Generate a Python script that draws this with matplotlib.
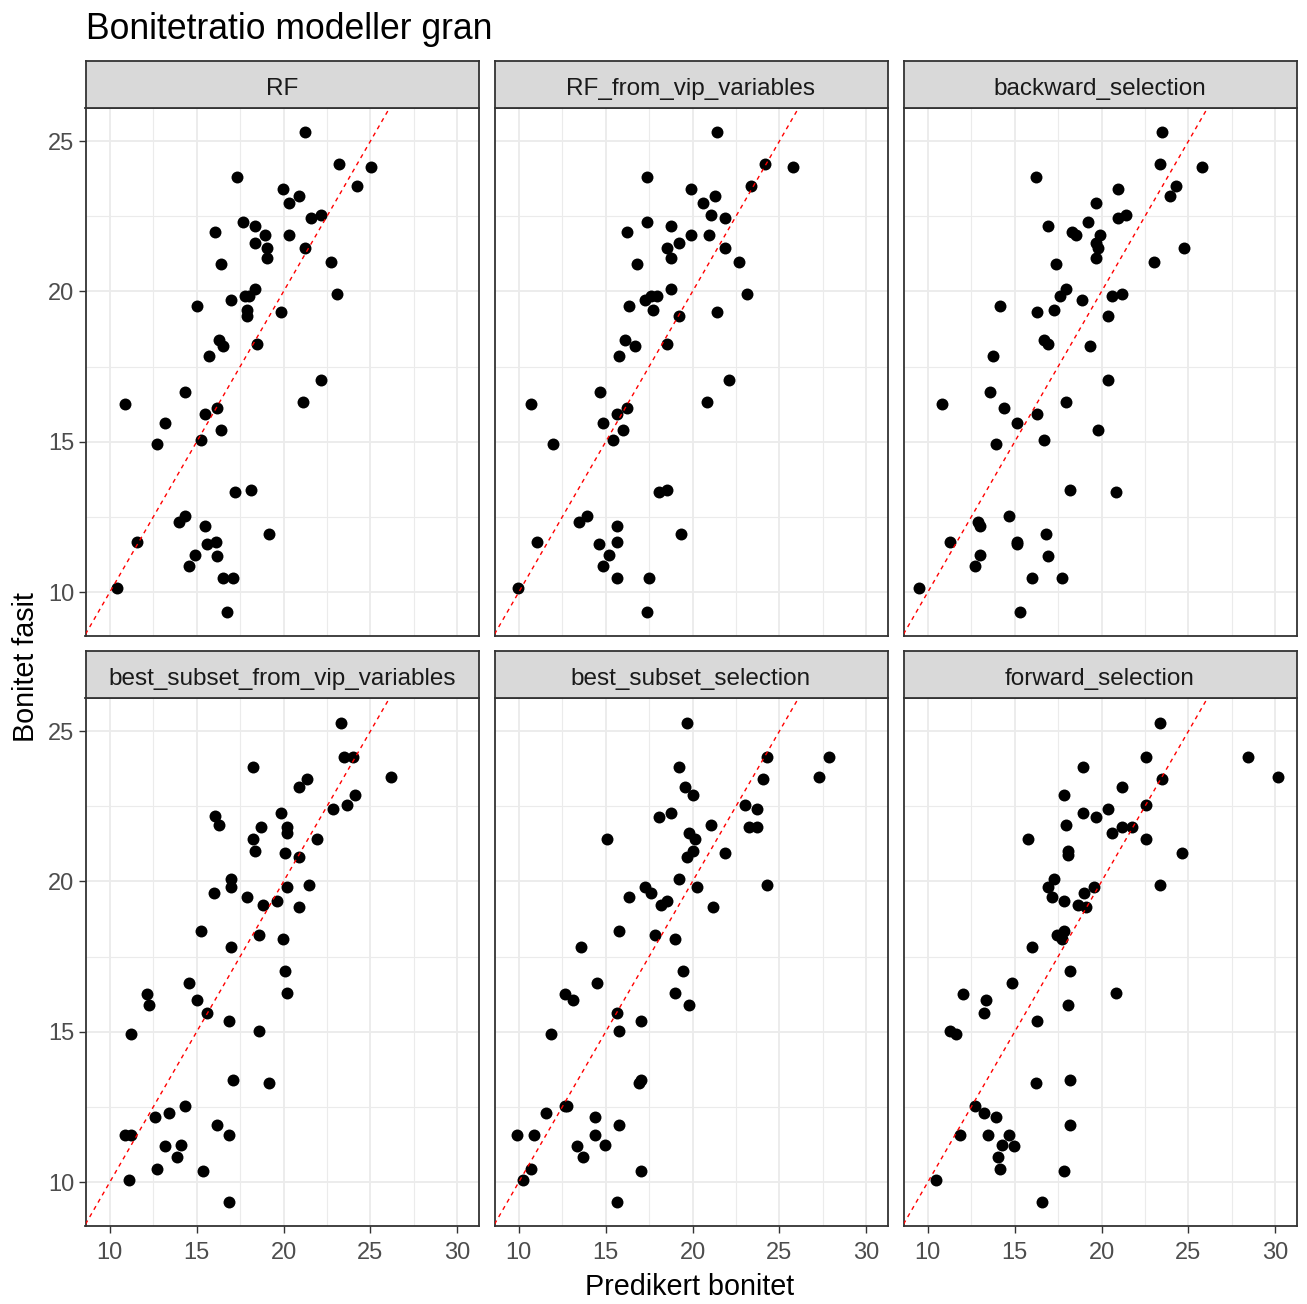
import matplotlib
matplotlib.use('Agg')
import matplotlib.pyplot as plt
from matplotlib.ticker import MultipleLocator

plt.rcParams['font.family'] = ['Liberation Sans', 'DejaVu Sans']

# modellnavn (fasetter)
modeller = ['RF', 'RF_from_vip_variables', 'backward_selection',
            'best_subset_from_vip_variables', 'best_subset_selection', 'forward_selection']

# Predikert bonitet (x) og Bonitet fasit (y) per modell
rf_x = [21.22, 23.19, 25.01, 17.32, 19.96, 20.86, 20.31, 24.23, 21.57, 22.16, 17.67, 18.37, 16.06, 18.95, 20.31,
        18.35, 19.04, 21.22, 19.04, 22.71, 16.39, 18.37, 17.78, 18.01, 23.06, 15.03, 16.98, 17.90, 17.90, 19.87,
        16.29, 16.52, 18.47, 15.72, 22.16, 14.34, 10.90, 21.11, 16.19, 15.49, 13.17, 16.41, 15.26, 12.72, 17.21,
        18.13, 14.34, 14.00, 15.49, 19.16, 11.59, 15.60, 16.10, 14.91, 16.19, 14.57, 16.52, 17.09, 10.44, 16.75]
rf_y = [25.29, 24.23, 24.15, 23.82, 23.42, 23.16, 22.95, 23.49, 22.43, 22.55, 22.30, 22.16, 21.96, 21.89, 21.89,
        21.62, 21.43, 21.43, 21.10, 20.97, 20.90, 20.09, 19.84, 19.84, 19.90, 19.50, 19.70, 19.37, 19.18, 19.30,
        18.38, 18.17, 18.24, 17.84, 17.04, 16.65, 16.25, 16.32, 16.11, 15.91, 15.64, 15.39, 15.05, 14.92, 13.33,
        13.39, 12.53, 12.33, 12.19, 11.92, 11.65, 11.59, 11.65, 11.25, 11.20, 10.86, 10.46, 10.46, 10.12, 9.34]

vip_x = [21.42, 24.18, 25.80, 17.37, 19.92, 21.29, 20.60, 23.36, 21.06, 21.86, 17.37, 18.75, 16.22, 19.92, 20.94,
         19.21, 18.52, 21.86, 18.75, 22.67, 16.79, 18.75, 17.60, 17.95, 17.26, 23.13, 16.33, 17.72, 19.21, 21.40,
         16.10, 16.68, 18.52, 15.76, 22.11, 14.70, 10.69, 20.83, 16.22, 15.64, 14.82, 15.99, 15.41, 11.96, 18.06,
         18.52, 13.93, 13.47, 15.64, 19.35, 11.02, 14.61, 15.64, 15.18, 14.84, 15.64, 17.47, 9.98, 17.37]
vip_y = [25.29, 24.23, 24.15, 23.82, 23.42, 23.16, 22.95, 23.49, 22.55, 22.43, 22.30, 22.16, 21.96, 21.89, 21.89,
         21.62, 21.43, 21.43, 21.10, 20.97, 20.90, 20.09, 19.84, 19.84, 19.70, 19.90, 19.50, 19.37, 19.17, 19.30,
         18.37, 18.17, 18.24, 17.84, 17.04, 16.65, 16.25, 16.32, 16.11, 15.91, 15.64, 15.39, 15.05, 14.92, 13.33,
         13.39, 12.53, 12.33, 12.19, 11.92, 11.65, 11.59, 11.65, 11.22, 10.86, 10.46, 10.46, 10.12, 9.34]

back_x = [23.47, 23.36, 25.80, 16.22, 20.94, 19.67, 24.28, 23.92, 20.94, 21.40, 19.21, 16.89, 18.29, 18.52, 19.90,
          19.67, 19.79, 24.74, 19.67, 23.01, 17.35, 17.95, 17.60, 18.87, 20.60, 21.17, 14.13, 17.26, 16.31, 20.36,
          16.68, 16.91, 19.33, 13.78, 20.36, 13.55, 10.79, 17.93, 14.36, 16.31, 15.16, 19.79, 16.68, 13.90, 18.18,
          20.83, 14.70, 12.88, 12.99, 16.79, 11.27, 15.16, 15.16, 12.98, 16.91, 12.74, 15.99, 17.72, 9.52, 15.28]
back_y = [25.29, 24.23, 24.15, 23.82, 23.42, 22.95, 23.49, 23.16, 22.43, 22.55, 22.30, 22.16, 21.96, 21.89, 21.89,
          21.62, 21.43, 21.43, 21.10, 20.97, 20.90, 20.09, 19.84, 19.70, 19.84, 19.90, 19.50, 19.37, 19.30, 19.17,
          18.37, 18.24, 18.17, 17.84, 17.04, 16.65, 16.25, 16.32, 16.11, 15.91, 15.64, 15.39, 15.05, 14.92, 13.39,
          13.33, 12.53, 12.33, 12.19, 11.92, 11.65, 11.65, 11.59, 11.25, 11.20, 10.86, 10.46, 10.46, 10.12, 9.34]

bsvip_x = [23.31, 23.50, 24.00, 18.26, 21.34, 20.88, 26.18, 24.11, 23.65, 22.85, 19.87, 16.06, 16.29, 18.70, 20.19,
           20.19, 18.26, 21.93, 18.37, 20.08, 20.88, 16.98, 16.98, 20.19, 21.47, 15.98, 17.90, 18.81, 19.61, 20.88,
           15.26, 18.58, 19.96, 16.98, 20.08, 14.57, 12.16, 12.28, 20.19, 15.03, 15.60, 16.86, 18.58, 11.24, 17.09,
           19.16, 14.34, 13.42, 12.62, 16.19, 10.90, 11.24, 16.86, 13.15, 14.11, 13.88, 12.72, 15.37, 11.13, 16.86]
bsvip_y = [25.27, 24.15, 24.15, 23.80, 23.40, 23.14, 23.47, 22.87, 22.53, 22.41, 22.27, 22.16, 21.88, 21.81, 21.81,
           21.60, 21.41, 21.41, 21.02, 20.95, 20.82, 20.09, 19.81, 19.81, 19.89, 19.62, 19.49, 19.22, 19.36, 19.15,
           18.36, 18.23, 18.09, 17.82, 17.03, 16.63, 16.24, 15.90, 16.29, 16.04, 15.63, 15.37, 15.03, 14.91, 13.38,
           13.31, 12.52, 12.31, 12.18, 11.91, 11.58, 11.58, 11.58, 11.19, 11.25, 10.85, 10.45, 10.38, 10.06, 9.33]

bss_x = [19.67, 24.30, 27.87, 19.21, 24.07, 27.29, 19.56, 20.04, 23.03, 23.72, 18.75, 18.06, 21.07, 23.26, 23.72,
         19.79, 20.15, 15.09, 20.04, 19.67, 21.86, 19.21, 20.25, 24.30, 17.26, 17.60, 16.33, 18.18, 18.52, 21.17,
         15.76, 17.83, 18.98, 13.57, 19.44, 14.49, 12.65, 13.11, 18.98, 19.81, 15.66, 17.02, 15.76, 11.84, 16.91,
         17.02, 12.65, 12.76, 11.59, 14.38, 15.76, 9.87, 10.90, 14.38, 13.34, 14.95, 13.69, 10.69, 17.02, 10.25, 15.64]
bss_y = [25.27, 24.14, 24.14, 23.80, 23.40, 23.47, 23.14, 22.87, 22.53, 22.41, 22.27, 22.15, 21.88, 21.81, 21.81,
         21.61, 21.41, 21.41, 21.02, 20.82, 20.95, 20.08, 19.81, 19.89, 19.81, 19.61, 19.49, 19.22, 19.36, 19.15,
         18.36, 18.23, 18.09, 17.82, 17.03, 16.63, 16.24, 16.04, 16.29, 15.90, 15.63, 15.37, 15.03, 14.91, 13.31,
         13.38, 12.52, 12.52, 12.31, 12.18, 11.91, 11.58, 11.58, 11.58, 11.19, 11.25, 10.85, 10.45, 10.38, 10.06, 9.33]

fwd_x = [23.36, 22.57, 28.45, 18.96, 23.47, 30.17, 21.15, 17.81, 22.57, 20.36, 18.96, 19.67, 17.93, 21.15, 21.73,
         20.60, 15.74, 22.57, 18.06, 18.06, 24.64, 17.26, 16.91, 19.56, 18.98, 23.36, 17.14, 17.83, 18.64, 19.10,
         17.83, 17.45, 17.72, 15.99, 18.18, 14.84, 12.05, 13.34, 20.83, 18.06, 13.21, 16.31, 11.27, 11.61, 16.20,
         18.18, 12.74, 13.22, 13.92, 18.18, 11.84, 13.45, 14.70, 14.26, 14.95, 14.03, 14.15, 17.83, 10.46, 16.56]
fwd_y = [25.27, 24.14, 24.14, 23.80, 23.40, 23.47, 23.14, 22.87, 22.53, 22.41, 22.27, 22.15, 21.88, 21.81, 21.81,
         21.61, 21.41, 21.41, 21.02, 20.88, 20.95, 20.08, 19.81, 19.81, 19.61, 19.89, 19.49, 19.36, 19.22, 19.15,
         18.36, 18.23, 18.09, 17.82, 17.03, 16.63, 16.24, 16.04, 16.29, 15.90, 15.63, 15.37, 15.04, 14.91, 13.31,
         13.38, 12.52, 12.31, 12.18, 11.91, 11.58, 11.58, 11.58, 11.25, 11.19, 10.85, 10.45, 10.38, 10.06, 9.33]

alle_x = [rf_x, vip_x, back_x, bsvip_x, bss_x, fwd_x]
alle_y = [rf_y, vip_y, back_y, bsvip_y, bss_y, fwd_y]

W, H = 1307, 1304
fig = plt.figure(figsize=(W / 100, H / 100), dpi=100)
fig.patch.set_facecolor('white')


def px_rect(left, top, width, height):
    return [left / W, 1 - (top + height) / H, width / W, height / H]


col_left = [85.5, 494.5, 903.5]
panel_w = 393
row_top = [108, 698]
panel_h = 528
strip_h = 47
kant = '#333333'

for i, navn in enumerate(modeller):
    r, c = divmod(i, 3)
    ax = fig.add_axes(px_rect(col_left[c], row_top[r], panel_w, panel_h))
    ax.set_facecolor('white')
    ax.set_xlim(8.6, 31.22)
    ax.set_ylim(8.54, 26.1)
    ax.xaxis.set_major_locator(MultipleLocator(5))
    ax.yaxis.set_major_locator(MultipleLocator(5))
    ax.xaxis.set_minor_locator(MultipleLocator(2.5))
    ax.yaxis.set_minor_locator(MultipleLocator(2.5))
    ax.grid(which='major', color='#EBEBEB', linewidth=1.3, zorder=0)
    ax.grid(which='minor', color='#EBEBEB', linewidth=0.8, zorder=0)
    ax.set_axisbelow(True)
    for s in ax.spines.values():
        s.set_color(kant)
        s.set_linewidth(1.3)
    ax.tick_params(which='minor', length=0)
    ax.tick_params(which='major', length=5, width=1.0, color=kant, labelcolor='#4D4D4D',
                   labelsize=17, pad=3)
    ax.tick_params(axis='x', which='major', pad=6.5)
    if r == 0:
        ax.tick_params(axis='x', which='major', length=0, labelbottom=False)
    if c != 0:
        ax.tick_params(axis='y', which='major', length=0, labelleft=False)

    ax.plot(alle_x[i], alle_y[i], 'o', color='black', markersize=8.6, markeredgewidth=0, zorder=3)
    ax.axline((10, 10), slope=1, color='red', linewidth=1.0, linestyle=(0, (3, 3)), zorder=4)

    sax = fig.add_axes(px_rect(col_left[c], row_top[r] - strip_h, panel_w, strip_h))
    sax.set_facecolor('#D9D9D9')
    sax.set_xticks([])
    sax.set_yticks([])
    for s in sax.spines.values():
        s.set_color(kant)
        s.set_linewidth(1.3)
    sax.text(0.5, 0.41, navn, ha='center', va='center', fontsize=17.5, color='#1A1A1A',
             transform=sax.transAxes)

fig.text(86 / W, 1 - 39 / H, 'Bonitetratio modeller gran', fontsize=25.6, color='black',
         ha='left', va='baseline')
fig.text(690 / W, 1 - 1287 / H, 'Predikert bonitet', fontsize=20.7, color='black',
         ha='center', va='center')
fig.text(26 / W, 1 - 667 / H, 'Bonitet fasit', fontsize=20.7, color='black',
         ha='center', va='center', rotation=90)

fig.savefig('out.png', dpi=100, facecolor='white')
